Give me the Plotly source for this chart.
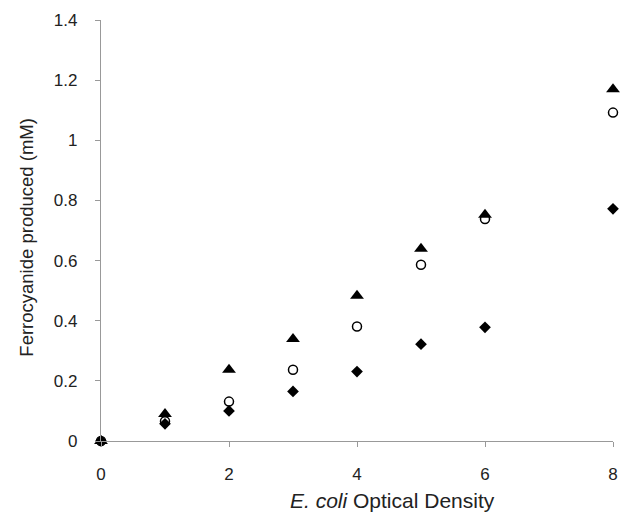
import plotly.graph_objects as go

od = [0, 1, 2, 3, 4, 5, 6, 8]
triangles = [0.0, 0.09, 0.237, 0.339, 0.483, 0.639, 0.752, 1.170]
circles = [0.0, 0.066, 0.131, 0.237, 0.381, 0.586, 0.738, 1.092]
diamonds = [0.0, 0.057, 0.100, 0.165, 0.231, 0.322, 0.378, 0.772]

y_ticks = [0, 0.2, 0.4, 0.6, 0.8, 1.0, 1.2, 1.4]
y_tick_text = ["0", "0.2", "0.4", "0.6", "0.8", "1", "1.2", "1.4"]
x_ticks = [0, 2, 4, 6, 8]

x_title = "<i>E. coli</i> Optical Density"
y_title = "Ferrocyanide produced (mM)"

fig = go.Figure()
fig.add_trace(go.Scatter(x=od, y=diamonds, mode="markers", cliponaxis=False,
                         marker=dict(symbol="diamond", size=9, color="black"), name="diamond"))
fig.add_trace(go.Scatter(x=od, y=circles, mode="markers", cliponaxis=False,
                         marker=dict(symbol="circle-open", size=9, color="black",
                                     line=dict(width=1.5, color="black")), name="circle"))
fig.add_trace(go.Scatter(x=od, y=triangles, mode="markers", cliponaxis=False,
                         marker=dict(symbol="triangle-up", size=12, color="black"), name="triangle"))

font = "Liberation Sans, Arial, sans-serif"
fig.update_layout(
    width=622, height=517,
    margin=dict(l=101, r=9, t=20, b=76),
    paper_bgcolor="white", plot_bgcolor="white",
    showlegend=False,
    font=dict(family=font, size=17, color="#222"),
    annotations=[
        dict(text=x_title, xref="paper", yref="paper", x=0.569, y=-0.142,
             xanchor="center", yanchor="middle", showarrow=False, font=dict(size=21)),
        dict(text=y_title, xref="paper", yref="paper", x=-0.1445, y=0.483, textangle=-90,
             xanchor="center", yanchor="middle", showarrow=False, font=dict(size=18.5)),
    ],
)
fig.update_xaxes(range=[0, 8], tickvals=x_ticks, showgrid=False, zeroline=False,
                 showline=True, linecolor="#999", linewidth=1.2, automargin=False,
                 tickfont=dict(size=17),
                 ticks="outside", ticklen=5, tickcolor="#999", ticklabelstandoff=12)
fig.update_yaxes(range=[0, 1.4], tickvals=y_ticks, ticktext=y_tick_text, showgrid=False, zeroline=False,
                 showline=True, linecolor="#999", linewidth=1.2, automargin=False,
                 tickfont=dict(size=17),
                 ticks="outside", ticklen=5, tickcolor="#999", ticklabelstandoff=14)

fig.write_html("out.html", config={"displayModeBar": False},
               post_script="document.body.style.margin='0';document.body.style.overflow='hidden';")
